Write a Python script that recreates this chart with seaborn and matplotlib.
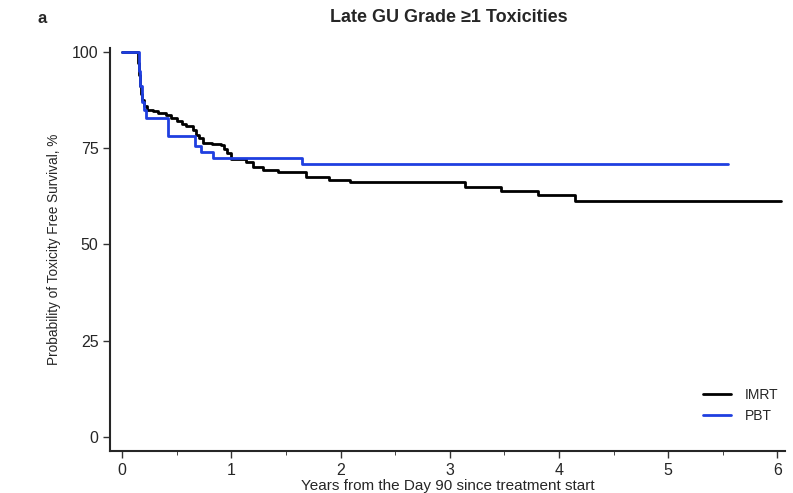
import pandas as pd
import seaborn as sns
import matplotlib.pyplot as plt
from matplotlib.ticker import MultipleLocator

# step times (years) and survival (%)
imrt_t = [0, 0.14, 0.15, 0.16, 0.17, 0.18, 0.20, 0.23, 0.28, 0.33, 0.40, 0.45, 0.50,
          0.55, 0.58, 0.65, 0.68, 0.70, 0.74, 0.82, 0.90, 0.93, 0.96, 1.00, 1.13,
          1.20, 1.29, 1.43, 1.68, 1.89, 2.09, 3.14, 3.47, 3.81, 4.15, 6.03]
imrt_s = [100, 97, 94, 91, 89, 87.5, 86, 85, 84.5, 84.2, 83.6, 82.8, 81.9,
          81.2, 80.6, 79.7, 78.5, 77.6, 76.3, 76.0, 75.8, 74.8, 73.7, 72.1, 71.5,
          70.2, 69.4, 68.7, 67.6, 66.8, 66.1, 65.0, 63.8, 62.7, 61.3, 61.3]

pbt_t = [0, 0.15, 0.16, 0.18, 0.20, 0.22, 0.42, 0.67, 0.72, 0.83, 1.65, 5.55]
pbt_s = [100, 95, 91, 87, 85, 82.7, 78.2, 75.6, 74.0, 72.5, 70.8, 70.8]

df = pd.concat([
    pd.DataFrame({'years': imrt_t, 'surv': imrt_s, 'arm': 'IMRT'}),
    pd.DataFrame({'years': pbt_t, 'surv': pbt_s, 'arm': 'PBT'}),
])

sns.set_style('ticks')
plt.rcParams['font.family'] = ['Liberation Sans', 'DejaVu Sans']

fig = plt.figure(figsize=(7.93, 4.93), dpi=100)
ax = fig.add_axes([0.139, 0.085, 0.851, 0.818])

sns.lineplot(data=df, x='years', y='surv', hue='arm', estimator=None,
             palette={'IMRT': 'black', 'PBT': '#1f3fe0'}, drawstyle='steps-post',
             linewidth=2, ax=ax)

ax.set_xlim(-0.11, 6.07)
ax.set_ylim(-3.6, 101)
ax.set_xticks([0, 1, 2, 3, 4, 5, 6])
ax.xaxis.set_minor_locator(MultipleLocator(0.5))
ax.set_yticks([0, 25, 50, 75, 100])
ax.tick_params(axis='both', labelsize=11.5, length=5, width=1, color='#333333')
ax.tick_params(axis='x', which='minor', length=3)
for s in ['left', 'bottom']:
    ax.spines[s].set_linewidth(1.5)
sns.despine(ax=ax)

ax.set_xlabel('Years from the Day 90 since treatment start', fontsize=11, labelpad=1)
ax.set_ylabel('Probability of Toxicity Free Survival, %', fontsize=9.8, labelpad=8)

ax.legend(title=None, frameon=False, loc='lower right', fontsize=10,
          handlelength=2.0, bbox_to_anchor=(0.998, 0.055), borderaxespad=0,
          labelspacing=0.55, handletextpad=1.0)

fig.text(0.566, 0.965, 'Late GU Grade \u22651 Toxicities', ha='center', va='center',
         fontsize=13, fontweight='bold')
fig.text(0.053, 0.962, 'a', ha='center', va='center', fontsize=12, fontweight='bold')

fig.savefig('out.png', dpi=100)
